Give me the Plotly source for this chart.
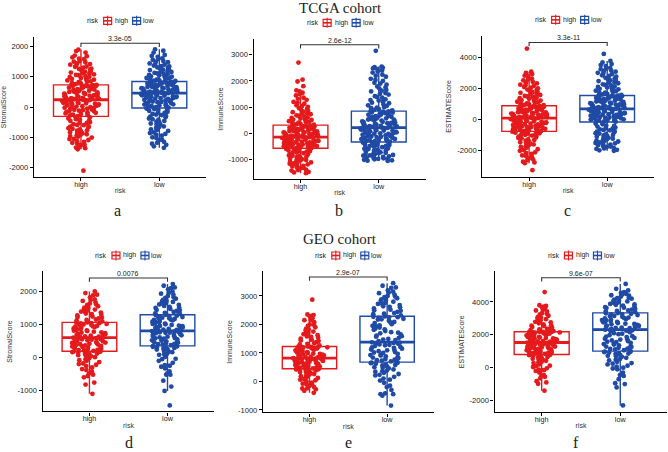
import plotly.graph_objects as go

W, H = 668, 452
risk_groups = ["high", "low"]
risk_colors = ["#E41A1C", "#1F4AA5"]
p_values = ["3.3e-05", "2.6e-12", "3.3e-11", "0.0076", "2.9e-07", "9.6e-07"]
score_names = ["StromalScore", "ImmuneScore", "ESTIMATEScore",
               "StromalScore", "ImmuneScore", "ESTIMATEScore"]
captions = ["a", "b", "c", "d", "e", "f"]
cohort_titles = ["TCGA cohort", "GEO cohort"]

# ---------------- TCGA StromalScore ----------------
tcga_stromal_high = [
    -2105, -1395, -1360, -1320, -1280, -1250, -1210, -1180, -1130, -1090, -1050, -1010, -980, -940, -900,
    -870, -830, -800, -770, -740, -700, -670, -640, -600, -570, -530, -500, -460, -420, -380, -340,
    -300, -280, -255, -230, -210, -190, -165, -140, -120, -100, -80, -60, -40, -20, 0, 15, 35, 55, 70,
    90, 110, 125, 140, 160, 175, 190, 205, 215, 225, 235,
    250, 270, 290, 305, 320, 340, 360, 375, 395, 410, 430, 450, 465, 480, 500, 520, 540, 555, 570, 590,
    610, 625, 640, 660, 675, 690, 705, 715, 725, 730,
    760, 790, 820, 850, 880, 905, 930, 960, 990, 1020, 1050, 1080, 1110, 1140, 1170, 1200, 1240, 1270,
    1300, 1330, 1370, 1400, 1440, 1480, 1520, 1580, 1640, 1700, 1800, 1900,
    -1340, -1230, -1150, -1060, -960, -920, -850, -780, -720, -650, -590, -520, -440, -400, -350,
    -270, -220, -175, -130, -90, -50, -10, 25, 60, 100, 130, 150, 180, 200, 230,
    260, 300, 330, 365, 400, 440, 475, 510, 545, 580, 615, 650, 680, 700, 720,
    775, 835, 890, 945, 1000, 1060, 1120, 1190, 1260, 1340, 1420, 1500, 1600, 1680, 1850]
tcga_stromal_low = [
    -1350, -1300, -1250, -1210, -1150, -1080, -1000, -950, -890, -840, -790, -740, -690, -640, -590,
    -545, -500, -460, -420, -380, -340, -300, -265, -230, -195, -160, -125, -95, -65, -40,
    -20, 0, 20, 40, 60, 80, 100, 120, 140, 160, 180, 200, 215, 230, 250, 265, 280, 300, 315, 330, 345,
    360, 375, 390, 405, 420, 430, 440, 450, 458,
    470, 485, 500, 510, 525, 540, 550, 565, 580, 590, 605, 620, 630, 645, 660, 670, 685, 700, 710, 725,
    740, 750, 765, 780, 790, 805, 815, 825, 835, 840,
    860, 880, 900, 925, 950, 975, 1000, 1025, 1050, 1075, 1100, 1130, 1160, 1190, 1220, 1250, 1280,
    1310, 1340, 1370, 1400, 1440, 1480, 1520, 1560, 1610, 1660, 1720, 1800, 1908,
    -1180, -1100, -1020, -920, -860, -760, -660, -570, -480, -400, -320, -250, -180, -110, -50,
    10, 50, 90, 130, 170, 210, 240, 290, 325, 355, 385, 410, 435, 448, 455,
    480, 505, 530, 560, 585, 615, 640, 665, 695, 720, 755, 785, 800, 820, 838,
    870, 915, 960, 1010, 1060, 1115, 1175, 1235, 1295, 1355, 1420, 1500, 1590, 1690, 1860]
tcga_stromal_q1 = [-309, -33]
tcga_stromal_median = [240, 460]
tcga_stromal_q3 = [733, 842]
tcga_stromal_lower = [-1395, -1350]
tcga_stromal_upper = [1900, 1908]

# ---------------- TCGA ImmuneScore ----------------
tcga_immune_high = [
    -1520, -1470, -1420, -1380, -1340, -1300, -1260, -1220, -1180, -1150, -1110, -1080, -1050, -1020,
    -990, -960, -930, -900, -870, -840, -810, -780, -750, -725, -700, -675, -650, -625, -600, -580,
    -560, -545, -530, -515, -500, -485, -470, -455, -440, -425, -410, -395, -380, -365, -350, -335,
    -320, -305, -290, -275, -260, -245, -230, -215, -200, -185, -170, -160, -150, -145,
    -130, -115, -100, -85, -70, -55, -40, -25, -10, 5, 20, 35, 50, 65, 80, 95, 110, 125, 140, 155,
    170, 185, 200, 215, 230, 245, 260, 275, 290, 310,
    330, 360, 390, 420, 450, 480, 510, 540, 570, 610, 650, 690, 730, 770, 810, 860, 910, 960, 1010,
    1070, 1130, 1200, 1280, 1360, 1450, 1550, 1640, 1980, 2050, 2700,
    -1490, -1400, -1320, -1240, -1160, -1090, -1030, -970, -910, -850, -790, -730, -680, -630, -590,
    -550, -520, -490, -460, -430, -400, -370, -340, -310, -280, -250, -220, -190, -165, -148,
    -120, -90, -60, -30, 0, 30, 60, 90, 120, 150, 180, 210, 240, 270, 300,
    345, 405, 465, 525, 590, 670, 750, 830, 930, 1040, 1160, 1320, 1500, 1600, 1800]
tcga_immune_low = [
    -1050, -1030, -1010, -990, -970, -950, -925, -900, -875, -850, -825, -800, -775, -750, -725, -700,
    -675, -650, -625, -600, -575, -550, -525, -500, -475, -450, -425, -400, -375, -350,
    -320, -300, -280, -260, -240, -220, -200, -180, -160, -140, -120, -100, -80, -60, -40, -20, 0, 20,
    40, 60, 80, 100, 120, 140, 155, 170, 185, 195, 205, 212,
    230, 250, 270, 290, 310, 330, 350, 370, 390, 410, 430, 455, 480, 500, 520, 540, 565, 590, 610, 630,
    655, 680, 700, 720, 745, 770, 790, 810, 830, 845,
    880, 920, 960, 1000, 1050, 1100, 1150, 1200, 1250, 1300, 1360, 1420, 1480, 1540, 1600, 1660, 1720,
    1790, 1860, 1930, 2000, 2080, 2160, 2240, 2320, 2400, 2450, 2500, 2550, 3150,
    -1040, -980, -940, -890, -840, -790, -740, -690, -640, -590, -540, -490, -440, -390, -345,
    -290, -250, -210, -170, -130, -90, -50, -10, 30, 70, 110, 150, 180, 200, 214,
    240, 280, 320, 360, 400, 440, 490, 530, 575, 620, 665, 710, 755, 800, 840,
    900, 980, 1070, 1170, 1270, 1390, 1510, 1630, 1750, 1900, 2040, 2200, 2360, 2480, 2530]
tcga_immune_q1 = [-570, -331]
tcga_immune_median = [-141, 217]
tcga_immune_q3 = [316, 848]
tcga_immune_lower = [-1520, -1050]
tcga_immune_upper = [1640, 2550]

# ---------------- TCGA ESTIMATEScore ----------------
tcga_estimate_high = [
    -3300, -2850, -2750, -2650, -2550, -2450, -2350, -2250, -2150, -2050, -1950, -1850, -1760, -1680,
    -1600, -1530, -1460, -1390, -1320, -1250, -1190, -1130, -1070, -1020, -970, -920, -880, -850, -825, -805,
    -780, -750, -720, -690, -660, -630, -600, -570, -540, -510, -480, -450, -420, -390, -360, -330, -300,
    -270, -240, -210, -180, -150, -120, -90, -60, -30, 0, 20, 40, 60,
    80, 105, 130, 155, 180, 205, 230, 255, 280, 305, 330, 355, 380, 405, 430, 460, 490, 520, 550, 580,
    610, 640, 670, 700, 730, 760, 790, 815, 835, 850,
    890, 940, 990, 1040, 1090, 1140, 1190, 1250, 1310, 1370, 1430, 1490, 1550, 1620, 1690, 1760, 1830,
    1900, 1980, 2060, 2140, 2220, 2300, 2400, 2500, 2600, 2750, 2900, 3060, 4550,
    -2800, -2600, -2400, -2200, -2000, -1800, -1640, -1500, -1350, -1220, -1100, -1000, -940, -870, -815,
    -765, -705, -645, -585, -525, -465, -405, -345, -285, -225, -165, -105, -45, 10, 50,
    95, 145, 195, 245, 295, 345, 395, 445, 505, 565, 625, 685, 745, 800, 845,
    915, 1015, 1115, 1220, 1340, 1460, 1590, 1730, 1870, 2020, 2180, 2350, 2550, 2800, 2980]
tcga_estimate_low = [
    -2050, -1990, -1930, -1870, -1810, -1750, -1690, -1630, -1570, -1510, -1450, -1390, -1330, -1270,
    -1210, -1150, -1090, -1030, -970, -910, -850, -790, -730, -670, -610, -550, -490, -420, -340, -250,
    -170, -140, -110, -80, -50, -20, 10, 40, 70, 100, 130, 160, 190, 220, 250, 280, 310, 340, 370, 400,
    430, 460, 490, 520, 550, 580, 605, 625, 645, 658,
    690, 720, 750, 780, 810, 840, 870, 900, 930, 960, 990, 1020, 1050, 1080, 1110, 1140, 1170, 1200,
    1230, 1260, 1290, 1320, 1350, 1380, 1410, 1440, 1465, 1485, 1500, 1512,
    1560, 1620, 1680, 1740, 1800, 1860, 1920, 1980, 2040, 2100, 2170, 2240, 2310, 2380, 2450, 2520,
    2590, 2660, 2740, 2820, 2900, 2980, 3060, 3140, 3220, 3300, 3420, 3550, 3750, 4200,
    -2020, -1900, -1780, -1660, -1540, -1420, -1300, -1180, -1060, -940, -820, -700, -580, -450, -300,
    -155, -95, -35, 25, 85, 145, 205, 265, 325, 385, 445, 505, 565, 615, 650,
    705, 765, 825, 885, 945, 1005, 1065, 1125, 1185, 1245, 1305, 1365, 1425, 1475, 1505,
    1590, 1710, 1830, 1950, 2070, 2200, 2345, 2490, 2630, 2780, 2940, 3100, 3260, 3480, 3650]
tcga_estimate_q1 = [-797, -193]
tcga_estimate_median = [64, 662]
tcga_estimate_q3 = [855, 1518]
tcga_estimate_lower = [-2850, -2050]
tcga_estimate_upper = [3060, 3750]

# ---------------- GEO StromalScore ----------------
geo_stromal_high = [
    -1100, -820, -760, -560, -520, -480, -420, -350, -300, -260, -220, -180, -140, -100, -60, -20, 10,
    40, 70, 100, 120, 140, 160, 175, 185,
    200, 215, 230, 250, 265, 280, 300, 315, 330, 350, 365, 380, 400, 415, 430, 450, 465, 480, 500, 520,
    540, 560, 575, 590, 598,
    620, 640, 660, 680, 700, 720, 740, 760, 780, 800, 820, 840, 860, 880, 900, 920, 940, 960, 980, 1000,
    1015, 1030, 1045, 1055, 1060,
    1090, 1120, 1150, 1180, 1210, 1240, 1270, 1300, 1330, 1360, 1390, 1420, 1450, 1480, 1510, 1550,
    1590, 1630, 1670, 1710, 1760, 1820, 1900, 1950, 2000,
    -600, -380, -200, -80, 50, 110, 150, 180, 225, 290, 340, 390, 440, 490, 550, 585,
    630, 690, 750, 810, 870, 930, 990, 1040, 1135, 1225, 1315, 1405, 1500, 1610, 1740, 1880]
geo_stromal_low = [
    -1450, -1010, -880, -700, -520, -480, -420, -330, -280, -230, -160, -100, -40, 20, 80, 120, 160,
    200, 240, 270, 290, 310, 325, 340, 348,
    370, 390, 410, 430, 450, 470, 490, 510, 530, 550, 570, 590, 610, 630, 650, 670, 690, 710, 730, 745,
    760, 775, 785, 795, 800,
    825, 845, 865, 885, 905, 925, 945, 965, 985, 1005, 1025, 1045, 1065, 1085, 1105, 1125, 1145, 1165,
    1185, 1205, 1225, 1245, 1265, 1280, 1290,
    1320, 1350, 1380, 1410, 1440, 1470, 1500, 1530, 1560, 1590, 1620, 1650, 1680, 1710, 1740, 1780,
    1820, 1860, 1900, 1950, 2000, 2060, 2120, 2170, 2220,
    -520, -250, -50, 100, 180, 250, 300, 335, 400, 460, 520, 580, 640, 700, 755, 790,
    835, 895, 955, 1015, 1075, 1135, 1195, 1255, 1335, 1425, 1515, 1605, 1695, 1800, 1930, 2100]
geo_stromal_q1 = [190, 352]
geo_stromal_median = [602, 803]
geo_stromal_q3 = [1063, 1295]
geo_stromal_lower = [-1100, -1010]
geo_stromal_upper = [2000, 2220]

# ---------------- GEO ImmuneScore ----------------
geo_immune_high = [
    -400, -330, -280, -240, -200, -160, -120, -80, -40, 0, 40, 80, 120, 160, 200, 240, 280, 310, 340,
    370, 390, 410, 425, 435, 442,
    460, 475, 490, 505, 520, 535, 550, 570, 590, 610, 630, 650, 670, 690, 705, 720, 735, 750, 765, 780,
    790, 800, 808, 812, 816,
    835, 850, 865, 880, 900, 920, 940, 960, 980, 1000, 1020, 1040, 1060, 1080, 1100, 1120, 1140, 1155,
    1170, 1185, 1195, 1205, 1212, 1218, 1222,
    1260, 1300, 1340, 1380, 1420, 1460, 1500, 1540, 1580, 1620, 1660, 1700, 1750, 1800, 1850, 1900,
    1950, 2000, 2080, 2160, 2220, 2280, 2330, 2350, 2870,
    -250, -100, 60, 180, 260, 330, 380, 420, 480, 530, 580, 640, 700, 745, 785, 810,
    860, 910, 970, 1030, 1090, 1150, 1190, 1215, 1320, 1440, 1560, 1680, 1820, 1980, 2150, 2300]
geo_immune_low = [
    -850, -500, -450, -420, -300, -150, -50, 30, 100, 160, 210, 260, 300, 340, 380, 420, 460, 500, 530,
    560, 590, 620, 640, 660, 672,
    700, 730, 760, 790, 820, 850, 880, 910, 940, 970, 1000, 1030, 1060, 1090, 1120, 1150, 1180, 1210,
    1240, 1270, 1300, 1320, 1340, 1360, 1372,
    1410, 1450, 1490, 1530, 1570, 1610, 1650, 1690, 1730, 1770, 1810, 1850, 1890, 1930, 1970, 2010,
    2050, 2090, 2130, 2170, 2200, 2230, 2255, 2270, 2282,
    2320, 2360, 2400, 2440, 2480, 2520, 2560, 2600, 2640, 2680, 2720, 2760, 2800, 2840, 2880, 2920,
    2960, 3000, 3050, 3100, 3150, 3200, 3280, 3360, 3450,
    -450, -200, 60, 230, 360, 480, 580, 650, 745, 835, 925, 1015, 1105, 1195, 1285, 1350,
    1470, 1590, 1710, 1830, 1950, 2070, 2180, 2250, 2380, 2500, 2620, 2740, 2860, 2980, 3120, 3300]
geo_immune_q1 = [444, 678]
geo_immune_median = [818, 1378]
geo_immune_q3 = [1224, 2287]
geo_immune_lower = [-400, -850]
geo_immune_upper = [2350, 3450]

# ---------------- GEO ESTIMATEScore ----------------
geo_estimate_high = [
    -1400, -980, -820, -650, -560, -450, -300, -200, -120, -40, 40, 120, 200, 280, 350, 420, 480, 540,
    600, 650, 700, 740, 770, 790, 800,
    840, 870, 900, 930, 960, 990, 1020, 1050, 1080, 1110, 1140, 1170, 1200, 1230, 1260, 1290, 1320,
    1350, 1380, 1410, 1440, 1470, 1495, 1515, 1528,
    1560, 1590, 1620, 1650, 1680, 1710, 1740, 1770, 1800, 1830, 1860, 1890, 1920, 1950, 1980, 2010,
    2040, 2070, 2100, 2125, 2145, 2160, 2170, 2176, 2180,
    2230, 2280, 2330, 2380, 2430, 2480, 2530, 2580, 2640, 2700, 2760, 2820, 2880, 2950, 3020, 3090,
    3160, 3240, 3320, 3420, 3520, 3620, 3720, 3800, 4600,
    -900, -500, -150, 100, 320, 500, 640, 760, 885, 975, 1065, 1155, 1245, 1335, 1425, 1505,
    1605, 1695, 1785, 1875, 1965, 2055, 2135, 2170, 2355, 2555, 2790, 3050, 3280, 3480, 3680, 3760]
geo_estimate_low = [
    -2300, -1200, -950, -700, -450, -300, -100, 0, 60, 120, 200, 280, 360, 440, 520, 600, 660, 720,
    780, 830, 880, 920, 950, 980, 1000,
    1060, 1110, 1160, 1210, 1260, 1310, 1360, 1410, 1460, 1510, 1560, 1610, 1660, 1710, 1760, 1810,
    1860, 1920, 1980, 2040, 2100, 2160, 2220, 2270, 2310,
    2360, 2400, 2440, 2480, 2520, 2560, 2600, 2640, 2680, 2720, 2760, 2800, 2840, 2880, 2920, 2960,
    3000, 3050, 3100, 3150, 3200, 3240, 3280, 3310, 3325,
    3380, 3430, 3480, 3530, 3580, 3630, 3680, 3730, 3780, 3830, 3880, 3930, 3980, 4030, 4080, 4140,
    4200, 4260, 4320, 4380, 4440, 4500, 4600, 4800, 5100,
    -1000, -500, -50, 240, 480, 700, 860, 970, 1135, 1285, 1435, 1585, 1735, 1890, 2070, 2250,
    2420, 2540, 2660, 2780, 2900, 3020, 3130, 3260, 3455, 3655, 3855, 4055, 4230, 4410, 4550, 4700]
geo_estimate_q1 = [806, 1006]
geo_estimate_median = [1533, 2321]
geo_estimate_q3 = [2182, 3333]
geo_estimate_lower = [-1400, -2300]
geo_estimate_upper = [3800, 5100]

# y tick values per panel
ytick_values = [
    [-2000, -1000, 0, 1000, 2000],
    [-1000, 0, 1000, 2000, 3000],
    [-2000, 0, 2000, 4000],
    [-1000, 0, 1000, 2000],
    [-1000, 0, 1000, 2000, 3000],
    [-2000, 0, 2000, 4000],
]

panels_data = [
    (tcga_stromal_high, tcga_stromal_low, tcga_stromal_q1, tcga_stromal_median, tcga_stromal_q3,
     tcga_stromal_lower, tcga_stromal_upper),
    (tcga_immune_high, tcga_immune_low, tcga_immune_q1, tcga_immune_median, tcga_immune_q3,
     tcga_immune_lower, tcga_immune_upper),
    (tcga_estimate_high, tcga_estimate_low, tcga_estimate_q1, tcga_estimate_median, tcga_estimate_q3,
     tcga_estimate_lower, tcga_estimate_upper),
    (geo_stromal_high, geo_stromal_low, geo_stromal_q1, geo_stromal_median, geo_stromal_q3,
     geo_stromal_lower, geo_stromal_upper),
    (geo_immune_high, geo_immune_low, geo_immune_q1, geo_immune_median, geo_immune_q3,
     geo_immune_lower, geo_immune_upper),
    (geo_estimate_high, geo_estimate_low, geo_estimate_q1, geo_estimate_median, geo_estimate_q3,
     geo_estimate_lower, geo_estimate_upper),
]

# ---------------- layout geometry (pixels) ----------------
panel_px = [  # x0, x1, ytop, ybottom
    (32, 205, 37, 178),
    (252.3, 425, 39, 180),
    (481.7, 654, 36, 177.7),
    (40.7, 213, 272.7, 413.3),
    (261.7, 433, 272.7, 414.3),
    (494, 667.4, 272.7, 414),
]
yranges = [(-2320, 2320), (-1749, 3608), (-3736, 5370),
           (-1633, 2602), (-1091, 3860), (-2709, 5855)]
caption_px = [(116, 211), (338, 211), (567, 211), (127, 444), (348, 444), (576, 444)]
title_px = [(340, 8), (339, 240)]

BOX_W = 0.7
SANS = "Liberation Sans, Arial, sans-serif"
SERIF = "Liberation Serif, Times New Roman, serif"

fig = go.Figure()
annotations = []
shapes = []
layout_axes = {}

for i, (hi_vals, lo_vals, q1, med, q3, lf, uf) in enumerate(panels_data):
    sfx = "" if i == 0 else str(i + 1)
    xa, ya = "x" + sfx, "y" + sfx
    group_vals = [hi_vals, lo_vals]
    for g in range(2):
        col = risk_colors[g]
        fig.add_trace(go.Box(
            x=[g], q1=[q1[g]], median=[med[g]], q3=[q3[g]],
            lowerfence=[lf[g]], upperfence=[uf[g]],
            width=BOX_W, whiskerwidth=0, boxpoints=False,
            line=dict(color=col, width=1.4), fillcolor="white",
            name=risk_groups[g], showlegend=False, hoverinfo="skip",
            xaxis=xa, yaxis=ya))
        # thicker median line (ggplot fatten = 2)
        fig.add_trace(go.Box(
            x=[g], q1=[med[g]], median=[med[g]], q3=[med[g]],
            lowerfence=[med[g]], upperfence=[med[g]],
            width=BOX_W, whiskerwidth=0, boxpoints=False,
            line=dict(color=col, width=2.8), fillcolor=col,
            name=risk_groups[g], showlegend=False, hoverinfo="skip",
            xaxis=xa, yaxis=ya))
        vals = group_vals[g]
        fig.add_trace(go.Box(
            x=[g] * len(vals), y=vals,
            boxpoints="all", jitter=0.68, pointpos=0, width=BOX_W,
            line=dict(color="rgba(0,0,0,0)", width=0), fillcolor="rgba(0,0,0,0)",
            marker=dict(color=col, size=4.8, opacity=1),
            name=risk_groups[g], showlegend=False,
            xaxis=xa, yaxis=ya))

    # significance bracket (computed from the data)
    allv = hi_vals + lo_vals
    rng = max(allv) - min(allv)
    top = max(allv) + 0.05 * rng
    tip = top - 0.03 * rng
    fig.add_trace(go.Scatter(
        x=[0, 0, 1, 1], y=[tip, top, top, tip], mode="lines",
        line=dict(color="#333333", width=1.1), showlegend=False, hoverinfo="skip",
        xaxis=xa, yaxis=ya))
    annotations.append(dict(
        x=0.5, y=top, xref=xa, yref=ya, text=p_values[i], showarrow=False,
        yanchor="bottom", yshift=-1, font=dict(family=SANS, size=7, color="#222222")))

    # axes
    x0, x1, yt, yb = panel_px[i]
    common = dict(showline=True, linecolor="black", linewidth=1.1, ticks="outside",
                  ticklen=3, tickwidth=1, tickcolor="black", showgrid=False, zeroline=False)
    layout_axes["xaxis" + sfx] = dict(
        domain=[x0 / W, x1 / W], range=[-0.6, 1.6], anchor=ya,
        tickvals=[0, 1], ticktext=risk_groups, ticklabelstandoff=-3,
        tickfont=dict(family=SANS, size=7.2, color="#222222"),
        title=dict(text="risk", font=dict(family=SANS, size=7, color="#333333"), standoff=0),
        **common)
    tv = ytick_values[i]
    layout_axes["yaxis" + sfx] = dict(
        domain=[1 - yb / H, 1 - yt / H], range=list(yranges[i]), anchor=xa,
        tickvals=tv, ticktext=[str(v) for v in tv],
        tickfont=dict(family=SANS, size=7.6, color="#222222"),
        title=dict(text=score_names[i], font=dict(family=SANS, size=7, color="#333333"), standoff=4),
        **common)

    # legend (risk: high / low) above each panel
    xd, yd = xa + " domain", ya + " domain"
    leg_text = [("risk", -27.5), (risk_groups[0], 1.5), (risk_groups[1], 28.5)]
    for txt, off in leg_text:
        annotations.append(dict(
            x=0.5, y=1, xref=xd, yref=yd, xshift=off, yshift=16, text=txt, showarrow=False,
            xanchor="center", yanchor="middle", font=dict(family=SANS, size=7, color="#222222")))
    for g, off in enumerate([-12.5, 16.5]):
        col = risk_colors[g]
        base = dict(xref=xd, yref=yd, xsizemode="pixel", ysizemode="pixel", xanchor=0.5, yanchor=1)
        shapes.append(dict(type="rect", x0=off - 4, x1=off + 4, y0=12.5, y1=19.5,
                           line=dict(color=col, width=1.2), fillcolor="white", **base))
        shapes.append(dict(type="line", x0=off - 4, x1=off + 4, y0=16, y1=16,
                           line=dict(color=col, width=1.6), **base))
        shapes.append(dict(type="line", x0=off, x1=off, y0=11, y1=21,
                           line=dict(color=col, width=1.1), **base))

    # caption letter
    cx, cy = caption_px[i]
    annotations.append(dict(
        x=cx / W, y=1 - cy / H, xref="paper", yref="paper", text=captions[i], showarrow=False,
        xanchor="center", yanchor="middle", font=dict(family=SERIF, size=16, color="#222222")))

for t, (tx, ty) in zip(cohort_titles, title_px):
    annotations.append(dict(
        x=tx / W, y=1 - ty / H, xref="paper", yref="paper", text=t, showarrow=False,
        xanchor="center", yanchor="middle", font=dict(family=SERIF, size=15, color="#222222")))

fig.update_layout(
    width=W, height=H, margin=dict(l=0, r=0, t=0, b=0),
    paper_bgcolor="white", plot_bgcolor="white",
    boxmode="overlay", showlegend=False,
    annotations=annotations, shapes=shapes,
    **layout_axes)

fig.write_html("out.html", config={"displayModeBar": False},
               post_script="document.body.style.margin='0';document.body.style.padding='0';")
